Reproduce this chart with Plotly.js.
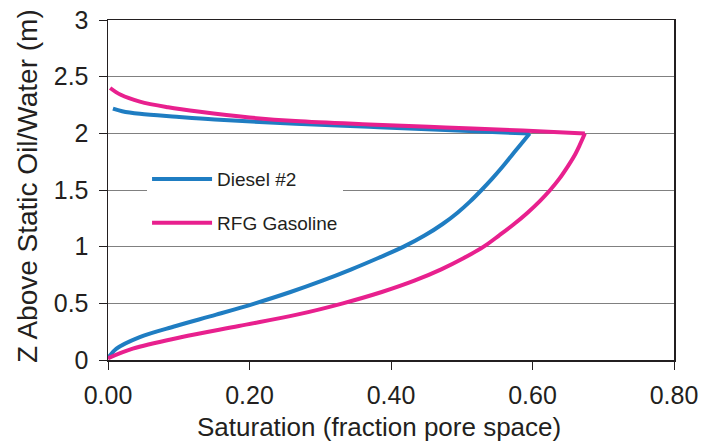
<!DOCTYPE html>
<html>
<head>
<meta charset="utf-8">
<script src="https://cdn.plot.ly/plotly-3.0.1.min.js"></script>
<style>html,body{margin:0;padding:0;background:#fff;}#chart{width:703px;height:448px;}</style>
</head>
<body>
<div id="chart"></div>
<script>
// Diesel #2: saturation (x) vs height above static oil/water (y)
// lower (drainage) branch up to the peak at z = 2
const dieselLowSat = [0.000, 0.012, 0.044, 0.096, 0.153, 0.208, 0.258, 0.303, 0.344, 0.382, 0.418, 0.448, 0.473, 0.494, 0.512, 0.528, 0.543, 0.557, 0.570, 0.583, 0.596];
const dieselLowZ   = [0.015, 0.100, 0.200, 0.300, 0.400, 0.500, 0.600, 0.700, 0.800, 0.900, 1.000, 1.100, 1.200, 1.300, 1.400, 1.500, 1.600, 1.700, 1.800, 1.900, 1.998];
// upper branch above the peak
const dieselUpSat = [0.596, 0.477, 0.369, 0.265, 0.151, 0.097, 0.045, 0.020, 0.007];
const dieselUpZ   = [1.998, 2.030, 2.057, 2.085, 2.122, 2.146, 2.172, 2.195, 2.218];
// RFG Gasoline
const rfgLowSat = [0.000, 0.035, 0.103, 0.185, 0.267, 0.332, 0.387, 0.433, 0.471, 0.503, 0.531, 0.553, 0.574, 0.593, 0.610, 0.625, 0.638, 0.649, 0.659, 0.667, 0.674];
const rfgLowZ   = [0.015, 0.100, 0.200, 0.300, 0.400, 0.500, 0.600, 0.700, 0.800, 0.900, 1.000, 1.100, 1.200, 1.300, 1.400, 1.500, 1.600, 1.700, 1.800, 1.900, 1.998];
const rfgUpSat = [0.674, 0.586, 0.477, 0.369, 0.265, 0.200, 0.130, 0.085, 0.045, 0.018, 0.003];
const rfgUpZ   = [1.998, 2.025, 2.052, 2.078, 2.108, 2.140, 2.190, 2.230, 2.280, 2.340, 2.400];
const seriesNames = ["Diesel #2", "RFG Gasoline"];
const xTickVals = [0, 0.2, 0.4, 0.6, 0.8];
const xTickText = ["0.00", "0.20", "0.40", "0.60", "0.80"];
const xTitle = "Saturation (fraction pore space)";
const yTitle = "Z Above Static Oil/Water (m)";

const font = "Liberation Sans, Arial, Helvetica, sans-serif";
const blue = "#1f7dc2", pink = "#e8208e";
function tr(x, y, name, group, color, show) {
  return {x: x, y: y, name: name, legendgroup: group, showlegend: show, mode: "lines",
          line: {color: color, width: 4, shape: "spline", smoothing: 1.0}};
}
const traces = [
  tr(dieselLowSat, dieselLowZ, seriesNames[0], "a", blue, true),
  tr(dieselUpSat, dieselUpZ, seriesNames[0], "a", blue, false),
  tr(rfgLowSat, rfgLowZ, seriesNames[1], "b", pink, true),
  tr(rfgUpSat, rfgUpZ, seriesNames[1], "b", pink, false)
];
const layout = {
  width: 703, height: 448,
  margin: {l: 108, r: 29, t: 20, b: 88},
  paper_bgcolor: "#fff", plot_bgcolor: "#fff",
  font: {family: font, color: "#231f20"},
  showlegend: true,
  legend: {x: 0.069, y: 0.588, xanchor: "left", yanchor: "top", bgcolor: "#fff",
           font: {size: 19, family: font, color: "#231f20"}, tracegroupgap: 16,
           traceorder: "grouped", itemwidth: 60},
  xaxis: {range: [0, 0.8], tickvals: xTickVals, ticktext: xTickText, ticks: "outside", ticklen: 8,
          tickcolor: "#231f20", showline: true, linecolor: "#231f20", linewidth: 1.5, mirror: true,
          showgrid: false, zeroline: false, tickfont: {size: 25}, ticklabelstandoff: 4},
  yaxis: {range: [0, 3], dtick: 0.5, ticks: "outside", ticklen: 8, tickcolor: "#231f20",
          showline: true, linecolor: "#231f20", linewidth: 1.5, mirror: true,
          showgrid: true, gridcolor: "#808080", gridwidth: 1, zeroline: false, tickfont: {size: 25},
          ticklabelstandoff: 5},
  annotations: [
    {text: xTitle, xref: "paper", yref: "paper", x: 0.4788, y: -0.196, xanchor: "center", yanchor: "middle",
     showarrow: false, font: {size: 26, family: font, color: "#231f20"}},
    {text: yTitle, xref: "paper", yref: "paper", x: -0.1413, y: 0.512, xanchor: "center", yanchor: "middle",
     textangle: -90, showarrow: false, font: {size: 28, family: font, color: "#231f20"}}
  ]
};
Plotly.newPlot("chart", traces, layout, {displayModeBar: false, staticPlot: true});
</script>
</body>
</html>
